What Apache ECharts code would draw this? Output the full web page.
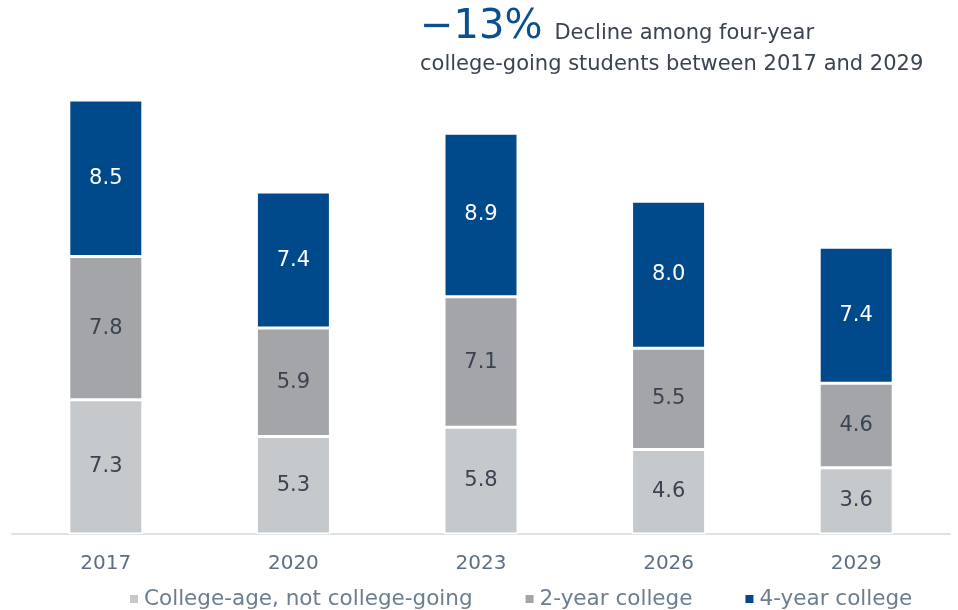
<!DOCTYPE html>
<html>
<head>
<meta charset="utf-8">
<script src="https://cdn.jsdelivr.net/npm/echarts@6/dist/echarts.min.js"></script>
<style>
  html, body { margin: 0; padding: 0; background: #fff; }
  #chart { width: 958px; height: 610px; }
</style>
</head>
<body>
<div id="chart"></div>
<script>
const years = ['2017', '2020', '2023', '2026', '2029'];
const notGoing = [7.3, 5.3, 5.8, 4.6, 3.6];
const twoYear = [7.8, 5.9, 7.1, 5.5, 4.6];
const fourYear = [8.5, 7.4, 8.9, 8.0, 7.4];

const font = 'DejaVu Sans, Verdana, sans-serif';
const chart = echarts.init(document.getElementById('chart'));

// shared look for the stacked segments
const seg = (name, data, color, labelColor) => ({
  name: name,
  type: 'bar',
  stack: 'total',
  data: data,
  barWidth: 74,
  itemStyle: { color: color, borderColor: '#fff', borderWidth: 1.5 },
  label: {
    show: true,
    position: 'inside',
    color: labelColor,
    fontFamily: font,
    fontSize: 21,
    formatter: p => p.value.toFixed(1)
  }
});

chart.setOption({
  animation: false,
  title: {
    left: 415,
    top: 0,
    text: '{big|−13%}{first|Decline among four-year}\n{small|college-going students between 2017 and 2029}',
    textStyle: {
      rich: {
        big: { fontFamily: font, fontSize: 40, fontWeight: 'normal', color: '#0b4f8f', lineHeight: 46 },
        first: { fontFamily: font, fontSize: 21, fontWeight: 'normal', color: '#3b4350', lineHeight: 30, padding: [12, 0, 0, 12] },
        small: { fontFamily: font, fontSize: 21, fontWeight: 'normal', color: '#3b4350', lineHeight: 27 }
      }
    }
  },
  grid: { left: 12, right: 8, top: 56, bottom: 76 },
  legend: {
    bottom: -5,
    left: 123,
    itemWidth: 10,
    itemHeight: 10,
    itemGap: 51,
    icon: 'rect',
    textStyle: { fontFamily: font, fontSize: 21.5, color: '#6b7d90' }
  },
  xAxis: {
    type: 'category',
    data: years,
    axisLine: { lineStyle: { color: '#dfe3e8', width: 2 } },
    axisTick: { show: false },
    axisLabel: { fontFamily: font, fontSize: 20, color: '#5e6f82', margin: 20 }
  },
  yAxis: {
    type: 'value',
    min: 0,
    max: 26,
    show: false,
    splitLine: { show: false }
  },
  series: [
    seg('College-age, not college-going', notGoing, '#c6c9cc', '#3b4350'),
    seg('2-year college', twoYear, '#a3a5a8', '#3b4350'),
    seg('4-year college', fourYear, '#00498a', '#ffffff')
  ]
});
</script>
</body>
</html>
